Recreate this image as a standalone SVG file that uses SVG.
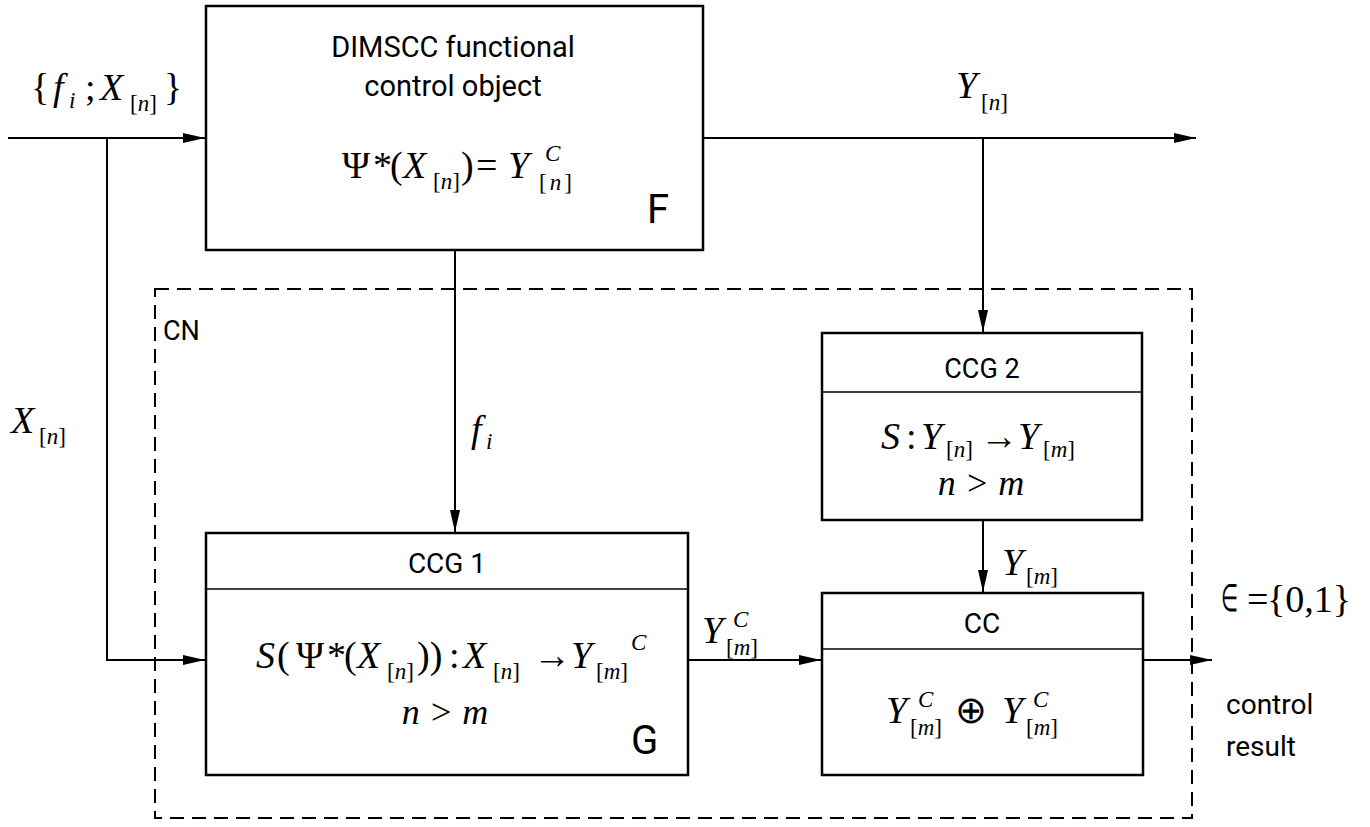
<svg xmlns="http://www.w3.org/2000/svg" width="1370" height="827" viewBox="0 0 1370 827">
<style>
.box{fill:#fff;stroke:#000;stroke-width:2.5}
.div{stroke:#000;stroke-width:1.5}
.ln{fill:none;stroke:#000;stroke-width:2}
.dash{fill:none;stroke:#000;stroke-width:2;stroke-dasharray:14 8}
.sans{font-family:Roboto,"Liberation Sans",sans-serif;fill:#000}
.m{font-family:"Liberation Serif","Times New Roman",serif;fill:#000;font-size:38px}
.i{font-style:italic}
.s{font-family:"Liberation Serif","Times New Roman",serif;fill:#000;font-size:23px}
.nm{font-size:36px}
</style>
<defs>
<marker id="ar" markerWidth="22" markerHeight="10" refX="22" refY="5" orient="auto" markerUnits="userSpaceOnUse">
<path d="M0,0 L22,5 L0,10 Z" fill="#000"/>
</marker>
</defs>
<rect width="1370" height="827" fill="#fff"/>
<rect id="CN" x="155" y="289" width="1037" height="529" class="dash"/>
<text class="sans" x="163" y="340" font-size="27">CN</text>
<g id="connectors">
<path class="ln" d="M8,138 H205" marker-end="url(#ar)"/>
<path class="ln" d="M107,138 V660 H205" marker-end="url(#ar)"/>
<path class="ln" d="M703,138 H1196" marker-end="url(#ar)"/>
<path class="ln" d="M983,138 V332" marker-end="url(#ar)"/>
<path class="ln" d="M455,250 V532" marker-end="url(#ar)"/>
<path class="ln" d="M983,520 V592" marker-end="url(#ar)"/>
<path class="ln" d="M688,660 H821" marker-end="url(#ar)"/>
<path class="ln" d="M1143,660 H1212" marker-end="url(#ar)"/>
</g>
<g id="labels">
<text class="m" x="31" y="100">{</text>
<text class="m i" x="53" y="100">f</text>
<text class="s i" x="69" y="108">i</text>
<text class="m" x="85" y="100">;</text>
<text class="m i" x="100" y="100">X</text>
<text class="s" x="130" y="111">[<tspan class="i">n</tspan>]</text>
<text class="m" x="164" y="100">}</text>

<text class="m i" x="956" y="98">Y</text>
<text class="s" x="981" y="110">[<tspan class="i">n</tspan>]</text>

<text class="m i" x="11" y="433">X</text>
<text class="s" x="39" y="444">[<tspan class="i">n</tspan>]</text>

<text class="m i" x="471" y="442">f</text>
<text class="s i" x="486" y="449">i</text>

<text class="m i" x="1002" y="575">Y</text>
<text class="s" x="1026" y="584">[<tspan class="i">m</tspan>]</text>

<text class="m i" x="702" y="643">Y</text>
<text class="s i" x="733" y="627">C</text>
<text class="s" x="726" y="655">[<tspan class="i">m</tspan>]</text>

<text class="m" x="1221" y="611" font-size="26" textLength="17" lengthAdjust="spacingAndGlyphs">∈</text>
<text class="m" x="1247" y="612" font-size="30">=</text>
<text class="m" x="1267" y="612" font-size="40">{0,1}</text>
<text class="sans" x="1226" y="714" font-size="28">control</text>
<text class="sans" x="1226" y="756" font-size="28">result</text>
</g>
<g id="F">
<rect class="box" x="206" y="6" width="497" height="244"/>
<text class="sans" x="453" y="57" font-size="29" text-anchor="middle">DIMSCC functional</text>
<text class="sans" x="453" y="96" font-size="29" text-anchor="middle">control object</text>
<text class="m" x="342" y="178">Ψ</text>
<text class="m" x="373" y="178">*</text>
<text class="m" x="390" y="178">(</text>
<text class="m i" x="403" y="178">X</text>
<text class="s" x="433" y="189">[<tspan class="i">n</tspan>]</text>
<text class="m" x="461" y="178">)</text>
<text class="m" x="476" y="178">=</text>
<text class="m i" x="508" y="178">Y</text>
<text class="s i" x="545" y="161">C</text>
<text class="s" x="539" y="190">[<tspan class="i" dx="3">n</tspan><tspan dx="3">]</tspan></text>
<text class="sans" x="647" y="223" font-size="40">F</text>
</g>
<g id="CCG1">
<rect class="box" x="206" y="533" width="482" height="242"/>
<line class="div" x1="206" y1="589" x2="688" y2="589"/>
<text class="sans" x="447" y="573" font-size="28" text-anchor="middle">CCG  1</text>
<text class="m i" x="256" y="668">S</text>
<text class="m" x="277" y="668">(</text>
<text class="m" x="296" y="668">Ψ</text>
<text class="m" x="327" y="668">*</text>
<text class="m" x="344" y="668">(</text>
<text class="m i" x="357" y="668">X</text>
<text class="s" x="387" y="679">[<tspan class="i">n</tspan>]</text>
<text class="m" x="417" y="668">))</text>
<text class="m" x="449" y="668">:</text>
<text class="m i" x="463" y="668">X</text>
<text class="s" x="493" y="679">[<tspan class="i">n</tspan>]</text>
<text class="m" x="533" y="668">→</text>
<text class="m i" x="571" y="668">Y</text>
<text class="s" x="596" y="679">[<tspan class="i">m</tspan>]</text>
<text class="s i" x="631" y="650">C</text>
<text class="m i nm" x="445" y="724" text-anchor="middle">n &gt; m</text>
<text class="sans" x="631" y="754" font-size="40">G</text>
</g>
<g id="CCG2">
<rect class="box" x="822" y="333" width="320" height="187"/>
<line class="div" x1="822" y1="392" x2="1142" y2="392"/>
<text class="sans" x="982" y="378" font-size="27" text-anchor="middle">CCG  2</text>
<text class="m i" x="881" y="449">S</text>
<text class="m" x="906" y="449">:</text>
<text class="m i" x="921" y="449">Y</text>
<text class="s" x="946" y="457">[<tspan class="i">n</tspan>]</text>
<text class="m" x="980" y="449">→</text>
<text class="m i" x="1018" y="449">Y</text>
<text class="s" x="1043" y="457">[<tspan class="i">m</tspan>]</text>
<text class="m i nm" x="981" y="495" text-anchor="middle">n &gt; m</text>
</g>
<g id="CC">
<rect class="box" x="822" y="593" width="321" height="182"/>
<line class="div" x1="822" y1="649" x2="1143" y2="649"/>
<text class="sans" x="982" y="633" font-size="28" text-anchor="middle">CC</text>
<text class="m i" x="886" y="723">Y</text>
<text class="s i" x="918" y="707">C</text>
<text class="s" x="910" y="735">[<tspan class="i">m</tspan>]</text>
<text class="m" x="955" y="723" font-size="34">⊕</text>
<text class="m i" x="1002" y="723">Y</text>
<text class="s i" x="1033" y="707">C</text>
<text class="s" x="1026" y="735">[<tspan class="i">m</tspan>]</text>
</g>
</svg>
